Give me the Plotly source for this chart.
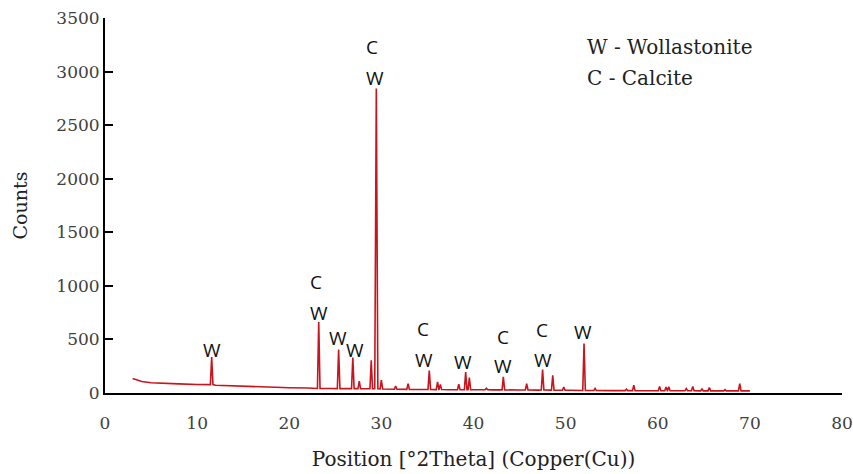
import plotly.graph_objects as go

# Background profile (2Theta, counts)
bg_theta = [3.0, 3.5, 4.0, 5.0, 6.0, 8.0, 10.0, 12.0, 14.0, 16.0, 18.0, 20.0, 22.0,
            24.5, 28.2, 32.0, 34.5, 37.5, 40.5, 42.0, 45.0, 47.0, 50.5, 52.7, 55.0,
            59.0, 62.0, 66.5, 68.5, 70.0]
bg_counts = [135, 120, 108, 95, 90, 85, 80, 73, 66, 60, 54, 49, 46,
             42, 40, 35, 33, 31, 30, 29, 28, 27, 25, 23, 22,
             21, 21, 20, 20, 20]

# Peaks: position, top count, local base count
peak_pos = [11.58, 23.2, 25.36, 26.9, 27.6, 28.9, 29.45, 30.0, 31.55, 32.9,
            35.2, 36.1, 36.4, 38.4, 39.15, 39.55, 41.4, 43.24, 45.77, 47.5,
            48.6, 49.8, 52.0, 53.2, 56.6, 57.4, 60.2, 60.9, 61.2, 63.1,
            63.8, 64.8, 65.6, 67.3, 68.9]
peak_height = [336, 663, 405, 330, 110, 305, 2841, 120, 65, 88,
               210, 103, 80, 82, 196, 144, 45, 150, 88, 220,
               165, 56, 461, 42, 35, 72, 62, 56, 58, 41,
               62, 41, 50, 32, 88]
peak_base = [78, 42, 41, 41, 41, 40, 40, 38, 35, 34,
             33, 32, 32, 31, 31, 31, 30, 29, 28, 28,
             27, 26, 24, 23, 22, 22, 21, 21, 21, 21,
             21, 20, 20, 20, 20]

# Peak labels: (text, 2Theta, counts)
label_text = ["W", "C", "W", "W", "W", "C", "W", "C", "W", "W", "C", "W", "C", "W", "W"]
label_x = [11.58, 22.95, 23.2, 25.25, 27.15, 28.95, 29.35, 34.5, 34.6, 38.9, 43.25, 43.15, 47.45, 47.55, 51.85]
label_y = [398, 1033, 745, 511, 398, 3225, 2936, 601, 311, 289, 523, 249, 592, 312, 569]

legend_lines = ["W - Wollastonite", "C - Calcite"]
legend_y = [3225, 2936]

# build profile
pts = list(zip(bg_theta, bg_counts))
for p, h, b in zip(peak_pos, peak_height, peak_base):
    w = 0.17 if h > 1000 else 0.14
    pts += [(p - w, b), (p, h), (p + w, b)]
pts.sort(key=lambda t: t[0])
xs = [t[0] for t in pts]
ys = [t[1] for t in pts]

fig = go.Figure()
fig.add_trace(go.Scatter(x=xs, y=ys, mode="lines",
                         line=dict(color="#C8141C", width=1.6),
                         showlegend=False, hoverinfo="skip"))

for t, x, y in zip(label_text, label_x, label_y):
    fig.add_annotation(x=x, y=y, xref="x", yref="y", text=t, showarrow=False,
                       font=dict(family="Open Sans", size=19, color="#111111"),
                       xanchor="center", yanchor="middle")

serif = "Palatino Linotype, Book Antiqua, DejaVu Serif"
for t, y in zip(legend_lines, legend_y):
    fig.add_annotation(x=52.1, y=y, xref="x", yref="y", text=t,
                       showarrow=False, xanchor="left", yanchor="middle",
                       font=dict(family=serif, size=20, color="#222222"))

fig.update_layout(
    width=853, height=474,
    margin=dict(l=105, r=11, t=18, b=81, autoexpand=False),
    paper_bgcolor="white", plot_bgcolor="white",
    font=dict(family=serif, size=17, color="#333333"),
    xaxis=dict(range=[0, 80], dtick=10, tick0=0, showgrid=False, zeroline=False,
               showline=True, linecolor="black", linewidth=2, ticks="",
               ticklabelstandoff=14, automargin=False,
               title=dict(text="Position [°2Theta] (Copper(Cu))",
                          font=dict(family=serif, size=20, color="#222222"), standoff=20),
               tickfont=dict(family=serif, size=17, color="#404040")),
    yaxis=dict(range=[0, 3500], dtick=500, tick0=0, showgrid=False, zeroline=False,
               showline=True, linecolor="black", linewidth=2, ticks="inside",
               ticklen=8, tickwidth=2, tickcolor="black", automargin=False,
               title=dict(text="Counts", font=dict(family=serif, size=19, color="#222222"),
                          standoff=24),
               tickfont=dict(family=serif, size=17, color="#404040")),
)

fig.write_html("out.html")
